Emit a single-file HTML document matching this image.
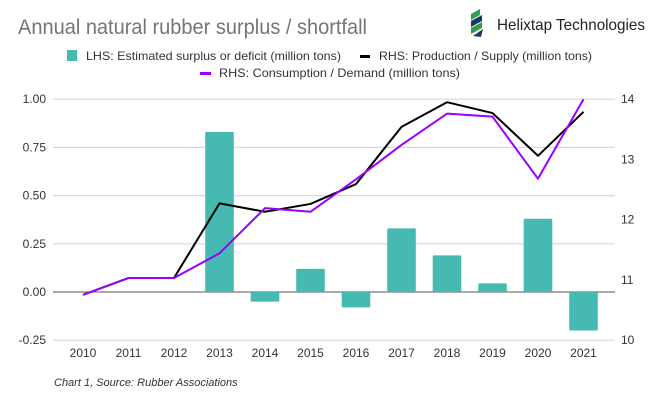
<!DOCTYPE html>
<html><head><meta charset="utf-8"><style>
body{margin:0;background:#fff;font-family:"Liberation Sans",sans-serif;}
#wrap{position:relative;width:661px;height:406px;overflow:hidden;}
</style></head><body>
<div id="wrap">
<svg id="chart" width="661" height="406" font-family="Liberation Sans, sans-serif">
<text x="18" y="34" font-size="21" fill="#757575" textLength="349" lengthAdjust="spacingAndGlyphs">Annual natural rubber surplus / shortfall</text>
<g>
<polygon points="471,14 480,9 480,15 471,20" fill="#2e9e4f"/>
<polygon points="471,21 482,15 482,21 471,27" fill="#1e3a5a"/>
<polygon points="471,28 482,22 482,28 471,34" fill="#2e9e4f"/>
<polygon points="473,36 483,29 481,37" fill="#1e3a5a"/>
<text x="497" y="30" font-size="16" fill="#222" textLength="148" lengthAdjust="spacingAndGlyphs">Helixtap Technologies</text>
</g>
<g font-size="12" fill="#333">
<g><rect x="67" y="50" width="10" height="11" fill="#46bab0"/><text x="86" y="60" textLength="255" lengthAdjust="spacingAndGlyphs">LHS: Estimated surplus or deficit (million tons)</text></g>
<g><rect x="360" y="55" width="10" height="3" fill="#000"/><text x="379" y="60" textLength="213" lengthAdjust="spacingAndGlyphs">RHS: Production / Supply (million tons)</text></g>
<g><rect x="200" y="72" width="11" height="3" fill="#9a00ff"/><text x="219" y="77" textLength="241" lengthAdjust="spacingAndGlyphs">RHS: Consumption / Demand (million tons)</text></g>
</g>
<g id="grid"></g><g id="bars"></g><g id="lines"></g><g id="labels" font-size="12" fill="#333"></g>
<text x="54" y="386" font-size="11" font-style="italic" fill="#333">Chart 1, Source: Rubber Associations</text>
</svg>
</div>
<script>
const categories=["2010","2011","2012","2013","2014","2015","2016","2017","2018","2019","2020","2021"];
const surplus=[0,0,0,0.83,-0.05,0.12,-0.08,0.33,0.19,0.045,0.38,-0.20];
const production=[10.75,11.03,11.03,12.27,12.13,12.26,12.59,13.54,13.95,13.77,13.06,13.79];
const consumption=[10.75,11.03,11.03,11.44,12.19,12.13,12.67,13.24,13.76,13.71,12.68,14.0];
const leftTicks=[1.00,0.75,0.50,0.25,0.00,-0.25];
const rightTicks=[14,13,12,11,10];
const NS="http://www.w3.org/2000/svg";
const yL=v=>292-(v/0.25)*48.2;
const yR=v=>340-(v-10)*60.2;
const xC=i=>83+i*45.5;
function mk(t,p,a){const e=document.createElementNS(NS,t);for(const k in a)e.setAttribute(k,a[k]);document.getElementById(p).appendChild(e);return e;}
leftTicks.forEach(v=>{
  const l=mk('line','grid',{x1:53,x2:615,y1:yL(v),y2:yL(v),stroke:v===0?'#555':'#d9d9d9','stroke-width':v===0?1:1.2});
  
  
  const t=mk('text','labels',{x:46,y:yL(v)+4,'text-anchor':'end'});t.textContent=v.toFixed(2);
  
  
});
rightTicks.forEach(v=>{
  const t=mk('text','labels',{x:621,y:yR(v)+4});t.textContent=v;
  
  
});
categories.forEach((c,i)=>{
  const t=mk('text','labels',{x:xC(i),y:357,'text-anchor':'middle'});t.textContent=c;
  
  
  const v=surplus[i];
  if(v!==0){
    const b=mk('rect','bars',{x:xC(i)-14.3,width:28.6,y:Math.min(yL(v),yL(0)),height:Math.abs(yL(v)-yL(0)),fill:'#46bab0',rx:1});
    
    
  }
});
function line(arr,color,name){
  const p=mk('polyline','lines',{points:arr.map((v,i)=>xC(i)+','+yR(v)).join(' '),fill:'none',stroke:color,'stroke-width':2,'stroke-linejoin':'round'});
  
  
}
line(production,'#000','production-line');
line(consumption,'#9a00ff','consumption-line');
</script>
</body></html>
